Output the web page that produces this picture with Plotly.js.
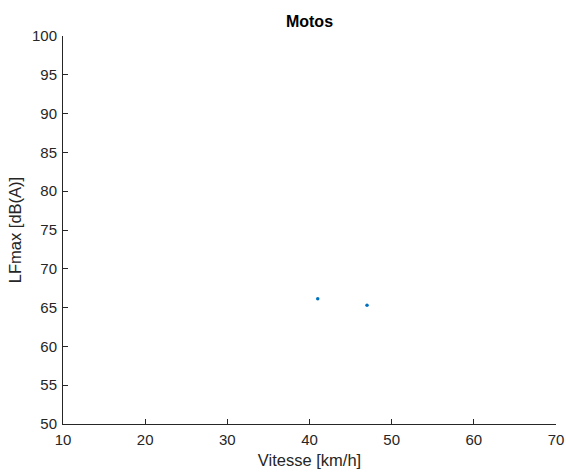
<!DOCTYPE html>
<html>
<head>
<meta charset="utf-8">
<script src="https://cdn.plot.ly/plotly-3.0.1.min.js"></script>
<style>html,body{margin:0;padding:0;background:#fff}</style>
</head>
<body>
<div id="chart" style="width:566px;height:472px"></div>
<script>
const vitesse = [41.0, 47.0];
const lfmax = [66.15, 65.3];
const xTicks = [10, 20, 30, 40, 50, 60, 70];
const yTicks = [50, 55, 60, 65, 70, 75, 80, 85, 90, 95, 100];

const trace = {
  x: vitesse, y: lfmax, mode: 'markers', type: 'scatter',
  marker: {color: '#0072BD', size: 3.5, line: {width: 0}},
  hoverinfo: 'skip'
};
const FONT = 'Liberation Sans, Arial, sans-serif';
const axisCommon = {
  showgrid: false, zeroline: false, showline: true, linecolor: '#262626', linewidth: 1,
  ticks: 'inside', ticklen: 5, tickwidth: 1, tickcolor: '#262626',
  tickfont: {family: FONT, size: 15, color: '#262626'},
  ticklabelstandoff: 2,
  mirror: false, fixedrange: true
};
const layout = {
  width: 566, height: 472,
  margin: {l: 63, r: 10, t: 36, b: 48},
  paper_bgcolor: '#fff', plot_bgcolor: '#fff',
  showlegend: false,
  title: {text: '<b>Motos</b>', xref: 'paper', x: 0.5, xanchor: 'center', y: 0.955, yanchor: 'middle',
    font: {family: FONT, size: 16, color: '#000'}},
  xaxis: Object.assign({}, axisCommon, {
    range: [10, 70], tickvals: xTicks, ticktext: xTicks.map(String),
    title: {text: 'Vitesse [km/h]', standoff: 7,
      font: {family: FONT, size: 16.5, color: '#262626'}}
  }),
  yaxis: Object.assign({}, axisCommon, {
    range: [50, 100], tickvals: yTicks, ticktext: yTicks.map(String),
    title: {text: 'LFmax [dB(A)]', standoff: 6,
      font: {family: FONT, size: 16.5, color: '#262626'}}
  })
};
Plotly.newPlot('chart', [trace], layout, {displayModeBar: false, staticPlot: true});
</script>
</body>
</html>
